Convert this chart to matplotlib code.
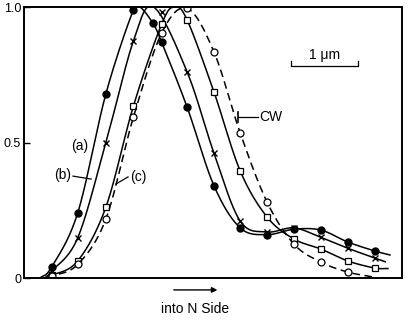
import numpy as np
import matplotlib
matplotlib.use("Agg")
import matplotlib.pyplot as plt

plt.rcParams['font.family'] = ['Liberation Sans', 'DejaVu Sans']

# ---- data (x in micrometres along the scan, y normalised intensity) ----
grid = [0.41, 0.80, 1.22, 1.63, 2.05, 2.43, 2.83, 3.22, 3.62, 4.02, 4.42, 4.82, 5.22]

a_x = [0.41, 0.80, 1.22, 1.63, 1.92, 2.05, 2.43, 2.83, 3.22, 3.62, 4.02, 4.42, 4.82, 5.22]
a_y = [0.04, 0.24, 0.68, 0.99, 0.94, 0.87, 0.63, 0.34, 0.185, 0.16, 0.18, 0.177, 0.133, 0.10]
a_curve_x = [0.24] + a_x[:4] + [1.73] + a_x[4:] + [5.45]
a_curve_y = [0.0] + a_y[:4] + [1.0] + a_y[4:] + [0.085]

b_x = grid
b_y = [0.025, 0.148, 0.50, 0.875, 0.98, 0.76, 0.46, 0.21, 0.17, 0.185, 0.15, 0.11, 0.074]
b_curve_x = [0.31] + b_x[:4] + [1.93] + b_x[5:] + [5.38]
b_curve_y = [0.0] + b_y[:4] + [1.0] + b_y[5:] + [0.06]

c_x = grid
c_y = [0.01, 0.063, 0.262, 0.635, 0.937, 0.952, 0.686, 0.395, 0.225, 0.144, 0.107, 0.063, 0.037]
c_curve_x = [0.30] + c_x[:5] + [2.24] + c_x[5:] + [5.42]
c_curve_y = [0.0] + c_y[:5] + [1.0] + c_y[5:] + [0.035]

cw_x = grid[:12]
cw_y = [0.007, 0.05, 0.218, 0.594, 0.904, 0.995, 0.834, 0.535, 0.280, 0.125, 0.059, 0.022]
cw_curve_x = [0.35] + cw_x + [5.22]
cw_curve_y = [0.0] + cw_y + [0.003]

yticks = [0, 0.5, 1.0]
ytick_labels = ["0", "0.5", "1.0"]


def smooth(xs, ys, n=30):
    """Catmull-Rom curve through the given points (rendering only)."""
    P = np.column_stack([xs, ys]).astype(float)
    P = np.vstack([2 * P[0] - P[1], P, 2 * P[-1] - P[-2]])
    out = []
    t = np.linspace(0, 1, n, endpoint=False)[:, None]
    for i in range(1, len(P) - 2):
        p0, p1, p2, p3 = P[i - 1], P[i], P[i + 1], P[i + 2]
        seg = 0.5 * ((2 * p1) + (-p0 + p2) * t + (2 * p0 - 5 * p1 + 4 * p2 - p3) * t ** 2
                     + (-p0 + 3 * p1 - 3 * p2 + p3) * t ** 3)
        out.append(seg)
    out.append(P[-2][None, :])
    out = np.vstack(out)
    return out[:, 0], out[:, 1]


fig = plt.figure(figsize=(4.15, 3.23), dpi=100)
ax = fig.add_axes([0.0578, 0.1393, 0.911, 0.839])

lw = 1.1
k = 'black'
x, y = smooth(a_curve_x, a_curve_y)
ax.plot(x, y, color=k, lw=lw)
ax.plot(a_x, a_y, 'o', color=k, ms=5, mec=k)

x, y = smooth(b_curve_x, b_curve_y)
ax.plot(x, y, color=k, lw=lw)
ax.plot(b_x, b_y, 'x', color=k, ms=4, mew=1.0)

x, y = smooth(c_curve_x, c_curve_y)
ax.plot(x, y, color=k, lw=lw)
ax.plot(c_x, c_y, 's', mfc='white', mec=k, ms=5, mew=0.9)

x, y = smooth(cw_curve_x, cw_curve_y)
ax.plot(x, y, color=k, lw=lw, ls=(0, (5, 3)))
ax.plot(cw_x, cw_y, 'o', mfc='white', mec=k, ms=5, mew=0.9)

ax.set_xlim(0, 5.63)
ax.set_ylim(0, 1.0)
ax.set_xticks([])
ax.set_yticks(yticks)
ax.set_yticklabels(ytick_labels, fontsize=9)
ax.tick_params(axis='y', direction='in', length=4, width=1, pad=2)
for s in ax.spines.values():
    s.set_linewidth(1.4)

fs = 10
ax.text(0.83, 0.487, "(a)", fontsize=fs, ha='center', va='center')
ax.text(0.58, 0.38, "(b)", fontsize=fs, ha='center', va='center')
ax.plot([0.73, 1.0], [0.376, 0.365], color=k, lw=0.9)
ax.text(1.70, 0.373, "(c)", fontsize=fs, ha='center', va='center')
ax.plot([1.55, 1.37], [0.373, 0.347], color=k, lw=0.9)
ax.text(3.67, 0.594, "CW", fontsize=fs, ha='center', va='center')
ax.plot([3.49, 3.19], [0.594, 0.594], color=k, lw=0.9)
ax.plot([3.19, 3.19], [0.575, 0.613], color=k, lw=1.2)

# scale bar
ax.plot([3.98, 3.98, 4.98, 4.98], [0.80, 0.782, 0.782, 0.80], color=k, lw=0.9)
ax.text(4.48, 0.822, "1 \u03bcm", fontsize=fs, ha='center', va='center')

# arrow and label
ax.annotate("", xy=(0.519, -0.044), xytext=(0.389, -0.044), xycoords='axes fraction',
            arrowprops=dict(arrowstyle='-|>', color=k, lw=1.0, mutation_scale=8))
ax.text(0.452, -0.114, "into N Side", transform=ax.transAxes, fontsize=fs,
        ha='center', va='center')

fig.savefig("out.png", dpi=100)
